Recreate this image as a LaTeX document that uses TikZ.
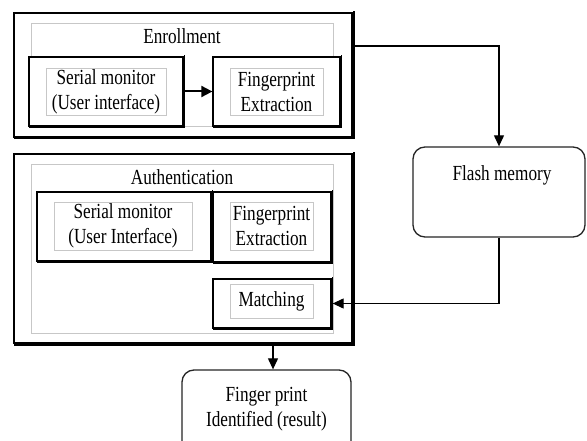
\documentclass[tikz,border=0pt]{standalone}
\usepackage{fontspec}
\setmainfont[FakeStretch=0.8]{Liberation Serif}
\usetikzlibrary{arrows.meta}
\begin{document}
\begin{tikzpicture}[x=1pt,y=-1pt,
  outerbox/.style={draw=black, line width=1.4pt, inner sep=0pt},
  graybox/.style={draw=black!22, line width=0.8pt, inner sep=0pt},
  blockbox/.style={draw=black, line width=1.3pt, inner sep=0pt},
  txtbox/.style={draw=black!22, line width=0.8pt, inner sep=0pt, align=center,
    font=\fontsize{21.5}{25}\selectfont},
  titletxt/.style={inner sep=0pt, font=\fontsize{21.5}{25}\selectfont},
  roundbox/.style={draw=black!85, line width=1.3pt, rounded corners=12pt, inner sep=0pt},
  conn/.style={draw=black, line width=1.1pt, -{Triangle[length=11pt,width=10pt]}},
  bigconn/.style={draw=black, line width=2pt, -{Triangle[length=11pt,width=11pt]}}
]
\clip (0,0) rectangle (587,441);
\fill[white] (0,0) rectangle (587,441);

% Enrollment
\node[outerbox, minimum width=338pt, minimum height=124pt] (enr) at (183,75) {};
\node[graybox, minimum width=302pt, minimum height=103pt] (enrg) at (182,74.5) {};
\node[titletxt] (enrt) at (182,36) {Enrollment};
\node[blockbox, fill=white, minimum width=154pt, minimum height=69pt] (sm1) at (106,91.5) {};
\node[txtbox, minimum width=120pt, minimum height=47pt] (sm1t) at (106,91.5) {Serial monitor\\(User interface)};
\node[blockbox, fill=white, minimum width=127pt, minimum height=69pt] (fe1) at (276.5,91.5) {};
\node[txtbox, minimum width=93pt, minimum height=47pt] (fe1t) at (276.5,91.5) {Fingerprint\\Extraction};

% Authentication
\node[outerbox, minimum width=338pt, minimum height=189pt] (aut) at (183,248.5) {};
\node[graybox, minimum width=302pt, minimum height=169pt] (autg) at (182,248.5) {};
\node[titletxt] (autt) at (182,177) {Authentication};
\node[blockbox, fill=white, minimum width=174pt, minimum height=69pt] (sm2) at (124,226.5) {};
\node[txtbox, minimum width=138pt, minimum height=48pt] (sm2t) at (123,226) {Serial monitor\\(User Interface)};
\node[blockbox, fill=white, minimum width=118pt, minimum height=70pt] (fe2) at (272,227) {};
\node[txtbox, minimum width=83pt, minimum height=48pt] (fe2t) at (271.5,226) {Fingerprint\\Extraction};
\node[blockbox, fill=white, minimum width=118pt, minimum height=49pt] (mat) at (272,303.5) {};
\node[txtbox, minimum width=83pt, minimum height=34pt] (matt) at (271.5,301) {Matching};

% shadows on right/bottom edges
\foreach \n in {enr,aut,sm1,fe1,sm2,fe2,mat}{
  \draw[line width=1.2pt] ([xshift=1.2pt,yshift=1pt]\n.north east) -- ([xshift=1.2pt,yshift=-1.2pt]\n.south east) -- ([xshift=1pt,yshift=-1.2pt]\n.south west);
}

% Flash memory
\node[roundbox, minimum width=172pt, minimum height=90pt] (fla) at (499,192) {};
\node[titletxt] (flat) at (502,175) {Flash memory};

% Result
\node[roundbox, minimum width=169pt, minimum height=90pt] (res) at (266.5,415) {};
\node[titletxt, align=center] (rest) at (266.5,409.5) {Finger print\\Identified (result)};

% connectors
\draw[bigconn] (sm1.east) -- (fe1.west);
\draw[conn] ([yshift=29pt]enr.east) -| (fla.north);
\draw[conn] (fla.south) |- ([xshift=1pt]mat.east);
\draw[conn] ([xshift=90pt]aut.south) -- ([xshift=6.5pt]res.north);
\end{tikzpicture}
\end{document}
